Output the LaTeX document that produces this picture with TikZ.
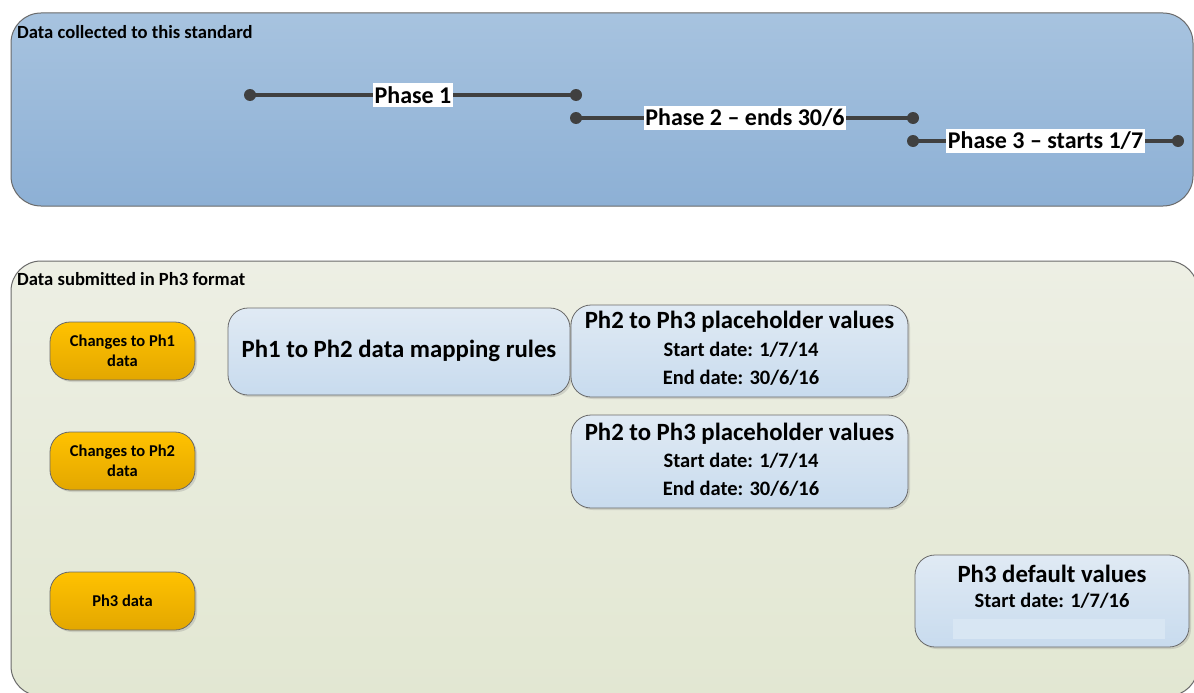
\documentclass[tikz,border=0pt]{standalone}
\usepackage{fontspec}
\setmainfont{Carlito}
\usetikzlibrary{shadows}
\definecolor{panelA1}{HTML}{A7C3DF}
\definecolor{panelA2}{HTML}{8DB0D5}
\definecolor{panelB1}{HTML}{EDEFE4}
\definecolor{panelB2}{HTML}{E2E7D2}
\definecolor{orA}{HTML}{FFC200}
\definecolor{orB}{HTML}{E3A700}
\definecolor{blA}{HTML}{E0EAF4}
\definecolor{blB}{HTML}{C8DBEE}
\definecolor{edge}{HTML}{6A6A6A}
\definecolor{tline}{HTML}{404040}
\tikzset{
  panel/.style={draw=edge, line width=1pt, rounded corners=30pt},
  orangebox/.style={draw=edge, line width=0.8pt, rounded corners=20pt, top color=orA, bottom color=orB,
     minimum width=145pt, minimum height=58pt, align=center, font=\fontsize{16.5}{20}\selectfont\bfseries,
     drop shadow={shadow xshift=2pt, shadow yshift=-2pt, opacity=0.25}},
  bluebox/.style={draw=edge, line width=0.8pt, rounded corners=20pt, top color=blA, bottom color=blB,
     drop shadow={shadow xshift=2pt, shadow yshift=-2pt, opacity=0.25}},
  dotnode/.style={circle, fill=tline, minimum size=12pt, inner sep=0pt},
  tl/.style={draw=tline, line width=3.5pt},
  phaselabel/.style={fill=white, inner xsep=1.5pt, inner ysep=3pt, font=\fontsize{24}{26}\selectfont\bfseries},
  paneltitle/.style={anchor=west, inner sep=0pt, font=\fontsize{18.6}{21}\selectfont\bfseries},
  bigtext/.style={inner sep=0pt, font=\fontsize{24.8}{28}\selectfont\bfseries},
  smalltext/.style={inner sep=0pt, font=\fontsize{20.5}{23}\selectfont\bfseries},
}
\begin{document}
\begin{tikzpicture}[x=1pt,y=-1pt]
\path[clip] (0,0) rectangle (1194,693);
\fill[white] (0,0) rectangle (1194,693);
% panels
\path[panel, top color=panelA1, bottom color=panelA2] (11,13) rectangle (1193,206);
\path[panel, top color=panelB1, bottom color=panelB2] (11,261) rectangle (1198,696);
\node[paneltitle] (t1) at (17,32) {Data collected to this standard};
\node[paneltitle] (t2) at (17,279) {Data submitted in Ph3 format};
% timeline
\node[dotnode] (p1a) at (250,95) {};
\node[dotnode] (p1b) at (576,95) {};
\node[phaselabel] (p1) at (413,95) {Phase 1};
\node[dotnode] (p2a) at (576,118) {};
\node[dotnode] (p2b) at (913,118) {};
\node[phaselabel] (p2) at (745,118) {Phase 2 – ends 30/6};
\node[dotnode] (p3a) at (913,141) {};
\node[dotnode] (p3b) at (1178,141) {};
\node[phaselabel] (p3) at (1045.5,141) {Phase 3 – starts 1/7};
\draw[tl] (p1a.center) -- (p1.west);
\draw[tl] (p1.east) -- (p1b.center);
\draw[tl] (p2a.center) -- (p2.west);
\draw[tl] (p2.east) -- (p2b.center);
\draw[tl] (p3a.center) -- (p3.west);
\draw[tl] (p3.east) -- (p3b.center);
% orange boxes
\node[orangebox] (o1) at (122.5,351) {Changes to Ph1\\data};
\node[orangebox] (o2) at (122.5,461) {Changes to Ph2\\data};
\node[orangebox] (o3) at (122.5,601) {Ph3 data};
% blue boxes
\path[bluebox] (228,308) rectangle (570,395);
\node[bigtext] (map) at (399,351) {Ph1 to Ph2 data mapping rules};
\path[bluebox] (571,305) rectangle (908,397);
\node[bigtext] (ph2a) at (739.5,322) {Ph2 to Ph3 placeholder values};
\node[smalltext] (ph2as) at (741,350) {Start date: 1/7/14};
\node[smalltext] (ph2ae) at (741,378) {End date: 30/6/16};
\path[bluebox] (571,415) rectangle (908,508);
\node[bigtext] (ph2b) at (739.5,434) {Ph2 to Ph3 placeholder values};
\node[smalltext] (ph2bs) at (741,461) {Start date: 1/7/14};
\node[smalltext] (ph2be) at (741,489) {End date: 30/6/16};
\path[bluebox] (915,555) rectangle (1189,647);
\node[bigtext] (ph3) at (1052,574) {Ph3 default values};
\node[smalltext] (ph3s) at (1052,601) {Start date: 1/7/16};
\fill[blB!70!white] (953,619) rectangle (1165,639);
\end{tikzpicture}
\end{document}
